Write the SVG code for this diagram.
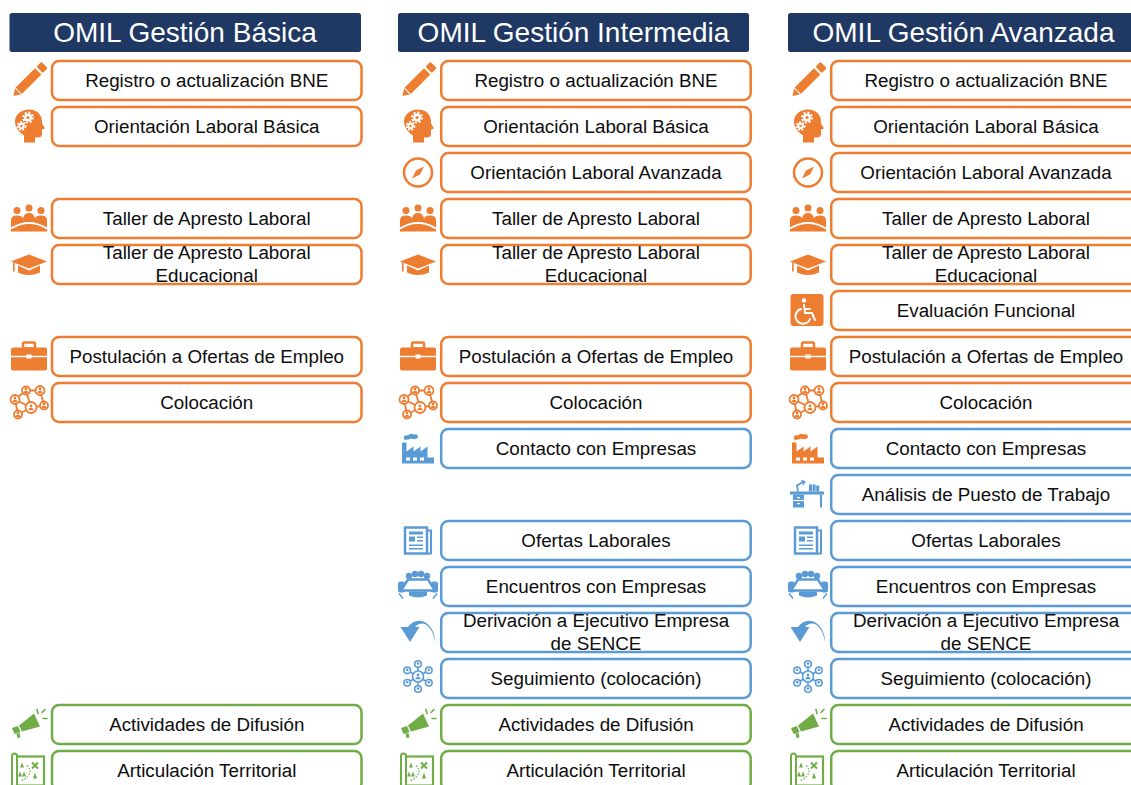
<svg xmlns="http://www.w3.org/2000/svg" xmlns:xlink="http://www.w3.org/1999/xlink" width="1131" height="785" viewBox="0 0 1131 785">
<style>
.hdr{fill:#203864}
.ht{font-family:"Liberation Sans",Arial,sans-serif;font-size:28px;fill:#fff;text-anchor:middle}
.box{fill:#fff;stroke-width:2.5}
.bo{stroke:#ED7D31}.bb{stroke:#5B9BD5}.bg{stroke:#70AD47}
.co{color:#ED7D31}.cb{color:#5B9BD5}.cg{color:#70AD47}
.t{font-family:"Liberation Sans",Arial,sans-serif;font-size:18.8px;fill:#0d0d0d;text-anchor:middle}
</style>
<defs>
<g id="pp" fill="currentColor"><circle cy="-1.5" r="1.4"/><path d="M-2.6,2.8 Q-2.6,0.2 0,0.2 Q2.6,0.2 2.6,2.8 Z"/></g>
<g id="i-pencil"><g transform="rotate(-45)" fill="currentColor"><polygon points="-22,0 -15,-4.5 13,-4.5 13,4.5 -15,4.5"/><rect x="15" y="-4.5" width="7" height="9" rx="1.5"/><line x1="-15" y1="-4.5" x2="-15" y2="4.5" stroke="#fff" stroke-width="1"/></g></g>
<g id="i-head"><path fill="currentColor" d="M-5,16 L-5,9 C-11,5 -14,0 -14,-5 C-14,-12 -8,-17 0,-17 C8,-17 13,-12 13,-5 L13,-3 L16,2 L13,3 L13,8 C13,10 11,11 9,11 L6,11 L6,16 Z"/>
<circle cx="-1" cy="-9" r="4" fill="#fff"/><circle cx="-1" cy="-9" r="5" fill="none" stroke="#fff" stroke-width="2" stroke-dasharray="2 1.9"/><circle cx="-1" cy="-9" r="1.5" fill="currentColor"/>
<circle cx="-7.5" cy="-0.5" r="3.2" fill="#fff"/><circle cx="-7.5" cy="-0.5" r="4" fill="none" stroke="#fff" stroke-width="1.8" stroke-dasharray="1.8 1.6"/><circle cx="-7.5" cy="-0.5" r="1.2" fill="currentColor"/></g>
<g id="i-compass"><circle r="14" fill="none" stroke="currentColor" stroke-width="2.5"/><polygon fill="currentColor" points="6,-6 2,2 -6,6 -2,-2"/></g>
<g id="i-group" fill="currentColor"><circle cx="-12" cy="-8" r="3.5"/><circle cx="0" cy="-10.5" r="3.5"/><circle cx="12" cy="-8" r="3.5"/><path d="M-18,13 L-18,2 Q-18,-3 -12,-3 Q-7,-3 -6,0 Q-5,-5.5 0,-5.5 Q5,-5.5 6,0 Q7,-3 12,-3 Q18,-3 18,2 L18,13 Z"/><path d="M-18,10 Q0,-1 18,10" fill="none" stroke="#fff" stroke-width="1.8"/></g>
<g id="i-cap" fill="currentColor"><polygon points="-18,-3 0,-10 18,-3 0,4"/><path d="M-11,1 L-11,8 Q0,13 11,8 L11,1 L0,6 Z"/><rect x="-16" y="-2" width="1.6" height="9"/></g>
<g id="i-wheel"><rect x="-16.5" y="-16" width="33" height="32" rx="3" fill="currentColor"/><g fill="none" stroke="#fff" stroke-width="2" stroke-linecap="round" stroke-linejoin="round"><path d="M-3,-5 L-2,3 L5,3 L8,10"/><path d="M-2,-1 L3,-1"/><path d="M-6,-1 A7.5,7.5 0 1 0 3,9"/></g><circle cx="-3" cy="-9.5" r="2.2" fill="#fff"/></g>
<g id="i-brief"><rect x="-6" y="-14" width="12" height="6" rx="1.5" fill="none" stroke="currentColor" stroke-width="2.5"/><rect x="-18" y="-9" width="36" height="23" rx="2" fill="currentColor"/><line x1="-18" y1="0" x2="18" y2="0" stroke="#fff" stroke-width="1.5"/><rect x="-2.5" y="-2" width="5" height="4" fill="#fff"/></g>
<g id="i-net"><g stroke="currentColor" stroke-width="1.8" fill="none"><path d="M-14,-3 L-3,-12 L11,-12 L15,3 L2,5 L-11,12 L-14,-3 L2,5 M-3,-12 L2,5"/></g>
<g fill="#fff" stroke="currentColor" stroke-width="1.8"><circle cx="-14" cy="-3" r="4.5"/><circle cx="-3" cy="-12" r="4"/><circle cx="11" cy="-12" r="4.5"/><circle cx="15" cy="3" r="4"/><circle cx="2" cy="5" r="5.5"/><circle cx="-11" cy="12" r="4"/></g>
<use href="#pp" x="-14" y="-3"/><use href="#pp" x="-3" y="-12"/><use href="#pp" x="11" y="-12"/><use href="#pp" x="15" y="3"/><use href="#pp" x="2" y="5"/><use href="#pp" x="-11" y="12"/></g>
<g id="i-factory" fill="currentColor"><path d="M-16,15 L-16,-6 L-11.5,-6 L-11.5,3 L-4.5,-2 L-4.5,3 L2.5,-2 L2.5,3 L9.5,-2 L9.5,9 L16,9 L16,15 Z"/><path d="M-14,-9 Q-15,-14 -10,-13 Q-8,-16 -4,-14 Q0,-15 0,-11 Q-3,-8 -7,-10 Q-11,-8 -14,-9 Z"/><g fill="#fff"><rect x="-12" y="9" width="4" height="3"/><rect x="-5" y="9" width="4" height="3"/><rect x="2" y="9" width="4" height="3"/></g></g>
<g id="i-desk" fill="currentColor"><rect x="-17" y="-3" width="34" height="3"/><rect x="-14" y="0" width="11" height="13"/><rect x="13" y="0" width="2" height="13"/><line x1="-14" y1="6" x2="-3" y2="6" stroke="#fff" stroke-width="1.2"/><rect x="-10" y="2.5" width="3" height="1.2" fill="#fff"/><rect x="-10" y="8.5" width="3" height="1.2" fill="#fff"/><path d="M-9,-3 L-10,-9 L-5,-12" fill="none" stroke="currentColor" stroke-width="1.8"/><polygon points="-6,-15 -1,-13 -4,-9"/><rect x="2" y="-10" width="3" height="7"/><rect x="5.6" y="-10" width="3" height="7"/><rect x="9.2" y="-9" width="3" height="6"/></g>
<g id="i-news"><rect x="-13" y="-13" width="22" height="26" fill="none" stroke="currentColor" stroke-width="2.5"/><path d="M9,-10 L13,-10 L13,13 L9,13" fill="none" stroke="currentColor" stroke-width="2"/><g fill="currentColor"><rect x="-9" y="-9" width="14" height="3"/><rect x="-9" y="-4" width="6" height="5"/><rect x="-1" y="-4" width="6" height="1.5"/><rect x="-1" y="-0.5" width="6" height="1.5"/><rect x="-9" y="4" width="14" height="1.5"/><rect x="-9" y="7.5" width="14" height="1.5"/></g></g>
<g id="i-meet" fill="currentColor"><circle cx="-9" cy="-10.5" r="3.2"/><circle cx="-3" cy="-12.5" r="3.2"/><circle cx="3" cy="-12.5" r="3.2"/><circle cx="9" cy="-10.5" r="3.2"/><rect x="-20" y="-5" width="7" height="11" rx="2.5"/><rect x="13" y="-5" width="7" height="11" rx="2.5"/><polygon points="-10,-7 10,-7 17,4 -17,4" fill="#fff" stroke="currentColor" stroke-width="2.5"/><path d="M-9,5 L9,5 L9,9 Q0,13 -9,9 Z"/><path d="M-19,7 L-15,12 M19,7 L15,12" stroke="currentColor" stroke-width="1.5"/></g>
<path id="i-arrow" fill="currentColor" d="M17,12 C17,-8 -1,-16 -10,-3 L-17.5,-3 L-8,12 L1.5,-3 L-3,-3 C3,-10 14,-7 17,12 Z"/>
<g id="i-hub"><g stroke="currentColor" stroke-width="1.6"><line x1="0" y1="0" x2="0" y2="-12.5"/><line x1="0" y1="0" x2="10.8" y2="-6.25"/><line x1="0" y1="0" x2="10.8" y2="6.25"/><line x1="0" y1="0" x2="0" y2="12.5"/><line x1="0" y1="0" x2="-10.8" y2="6.25"/><line x1="0" y1="0" x2="-10.8" y2="-6.25"/></g>
<g fill="#fff" stroke="currentColor" stroke-width="1.6"><circle cx="0" cy="-12.5" r="3.3"/><circle cx="10.8" cy="-6.25" r="3.3"/><circle cx="10.8" cy="6.25" r="3.3"/><circle cx="0" cy="12.5" r="3.3"/><circle cx="-10.8" cy="6.25" r="3.3"/><circle cx="-10.8" cy="-6.25" r="3.3"/><circle r="5.5"/></g>
<g fill="currentColor"><circle cx="0" cy="-13" r="1.3"/><circle cx="10.8" cy="-6.75" r="1.3"/><circle cx="10.8" cy="5.75" r="1.3"/><circle cx="0" cy="12" r="1.3"/><circle cx="-10.8" cy="5.75" r="1.3"/><circle cx="-10.8" cy="-6.75" r="1.3"/></g><use href="#pp"/></g>
<g id="i-mega" fill="currentColor"><polygon points="-10,1 5,-11 11,2 -7,7"/><polygon points="-17,3.5 -11,1.5 -8.5,7.5 -14.5,9.5"/><polygon points="-12.5,9 -9.5,8.5 -8.5,13 -11.5,13.5"/><g stroke="currentColor" stroke-width="1.6" stroke-linecap="round"><line x1="8" y1="-15" x2="9" y2="-11"/><line x1="13" y1="-12" x2="16" y2="-15"/><line x1="14" y1="-6" x2="18" y2="-6"/></g></g>
<g id="i-map"><rect x="-13" y="-14" width="28" height="29" fill="none" stroke="currentColor" stroke-width="2.2"/><rect x="-17" y="-17" width="5" height="33" rx="2.5" fill="#fff" stroke="currentColor" stroke-width="2"/><g fill="currentColor"><polygon points="-7,-8 -5,-3 -9,-3"/><polygon points="-9,1 -7,6 -11,6"/><polygon points="-5,1 -3,6 -7,6"/><polygon points="6,2 8,8 4,8"/></g><path d="M3,-8 L9,-2 M9,-8 L3,-2" stroke="currentColor" stroke-width="2"/><path d="M-2,-5 Q3,0 0,4 Q-3,9 -8,10" fill="none" stroke="currentColor" stroke-width="1.2" stroke-dasharray="1.5 1.5"/></g>
</defs>
<rect width="1131" height="785" fill="#fff"/>
<g id="headers">
<g id="h1"><rect class="hdr" x="9.5" y="13" width="351.5" height="39" rx="2.5"/><text class="ht" x="185" y="42">OMIL Gestión Básica</text></g>
<g id="h2"><rect class="hdr" x="398" y="13" width="351" height="39" rx="2.5"/><text class="ht" x="573.5" y="42">OMIL Gestión Intermedia</text></g>
<g id="h3"><rect class="hdr" x="788" y="13" width="351" height="39" rx="2.5"/><text class="ht" x="963.5" y="42">OMIL Gestión Avanzada</text></g>
</g>
<g id="connectors"/>
<g id="col1">
<g id="c1-registro"><rect class="box bo" x="52" y="61" width="309.5" height="39" rx="7"/><use href="#i-pencil" class="co" x="29" y="80.5"/><text class="t" x="206.75" y="87">Registro o actualización BNE</text></g>
<g id="c1-orient"><rect class="box bo" x="52" y="107" width="309.5" height="39" rx="7"/><use href="#i-head" class="co" x="29" y="126.5"/><text class="t" x="206.75" y="133">Orientación Laboral Básica</text></g>
<g id="c1-taller"><rect class="box bo" x="52" y="199" width="309.5" height="39" rx="7"/><use href="#i-group" class="co" x="29" y="218.5"/><text class="t" x="206.75" y="225">Taller de Apresto Laboral</text></g>
<g id="c1-tallered"><rect class="box bo" x="52" y="245" width="309.5" height="39" rx="7"/><use href="#i-cap" class="co" x="29" y="264.5"/><text class="t" x="206.75" y="259">Taller de Apresto Laboral</text><text class="t" x="206.75" y="282">Educacional</text></g>
<g id="c1-postul"><rect class="box bo" x="52" y="337" width="309.5" height="39" rx="7"/><use href="#i-brief" class="co" x="29" y="356.5"/><text class="t" x="206.75" y="363">Postulación a Ofertas de Empleo</text></g>
<g id="c1-coloc"><rect class="box bo" x="52" y="383" width="309.5" height="39" rx="7"/><use href="#i-net" class="co" x="29" y="402.5"/><text class="t" x="206.75" y="409">Colocación</text></g>
<g id="c1-difus"><rect class="box bg" x="52" y="705" width="309.5" height="39" rx="7"/><use href="#i-mega" class="cg" x="29" y="724.5"/><text class="t" x="206.75" y="731">Actividades de Difusión</text></g>
<g id="c1-artic"><rect class="box bg" x="52" y="751" width="309.5" height="39" rx="7"/><use href="#i-map" class="cg" x="29" y="770.5"/><text class="t" x="206.75" y="777">Articulación Territorial</text></g>
</g>
<g id="col2">
<g id="c2-registro"><rect class="box bo" x="441.2" y="61" width="309.5" height="39" rx="7"/><use href="#i-pencil" class="co" x="418" y="80.5"/><text class="t" x="596" y="87">Registro o actualización BNE</text></g>
<g id="c2-orient"><rect class="box bo" x="441.2" y="107" width="309.5" height="39" rx="7"/><use href="#i-head" class="co" x="418" y="126.5"/><text class="t" x="596" y="133">Orientación Laboral Básica</text></g>
<g id="c2-orientav"><rect class="box bo" x="441.2" y="153" width="309.5" height="39" rx="7"/><use href="#i-compass" class="co" x="418" y="172.5"/><text class="t" x="596" y="179">Orientación Laboral Avanzada</text></g>
<g id="c2-taller"><rect class="box bo" x="441.2" y="199" width="309.5" height="39" rx="7"/><use href="#i-group" class="co" x="418" y="218.5"/><text class="t" x="596" y="225">Taller de Apresto Laboral</text></g>
<g id="c2-tallered"><rect class="box bo" x="441.2" y="245" width="309.5" height="39" rx="7"/><use href="#i-cap" class="co" x="418" y="264.5"/><text class="t" x="596" y="259">Taller de Apresto Laboral</text><text class="t" x="596" y="282">Educacional</text></g>
<g id="c2-postul"><rect class="box bo" x="441.2" y="337" width="309.5" height="39" rx="7"/><use href="#i-brief" class="co" x="418" y="356.5"/><text class="t" x="596" y="363">Postulación a Ofertas de Empleo</text></g>
<g id="c2-coloc"><rect class="box bo" x="441.2" y="383" width="309.5" height="39" rx="7"/><use href="#i-net" class="co" x="418" y="402.5"/><text class="t" x="596" y="409">Colocación</text></g>
<g id="c2-contacto"><rect class="box bb" x="441.2" y="429" width="309.5" height="39" rx="7"/><use href="#i-factory" class="cb" x="418" y="448.5"/><text class="t" x="596" y="455">Contacto con Empresas</text></g>
<g id="c2-ofertas"><rect class="box bb" x="441.2" y="521" width="309.5" height="39" rx="7"/><use href="#i-news" class="cb" x="418" y="540.5"/><text class="t" x="596" y="547">Ofertas Laborales</text></g>
<g id="c2-encuentros"><rect class="box bb" x="441.2" y="567" width="309.5" height="39" rx="7"/><use href="#i-meet" class="cb" x="418" y="586.5"/><text class="t" x="596" y="593">Encuentros con Empresas</text></g>
<g id="c2-deriv"><rect class="box bb" x="441.2" y="613" width="309.5" height="39" rx="7"/><use href="#i-arrow" class="cb" x="418" y="630"/><text class="t" x="596" y="627">Derivación a Ejecutivo Empresa</text><text class="t" x="596" y="650">de SENCE</text></g>
<g id="c2-seguim"><rect class="box bb" x="441.2" y="659" width="309.5" height="39" rx="7"/><use href="#i-hub" class="cb" x="418" y="676.5"/><text class="t" x="596" y="685">Seguimiento (colocación)</text></g>
<g id="c2-difus"><rect class="box bg" x="441.2" y="705" width="309.5" height="39" rx="7"/><use href="#i-mega" class="cg" x="418" y="724.5"/><text class="t" x="596" y="731">Actividades de Difusión</text></g>
<g id="c2-artic"><rect class="box bg" x="441.2" y="751" width="309.5" height="39" rx="7"/><use href="#i-map" class="cg" x="418" y="770.5"/><text class="t" x="596" y="777">Articulación Territorial</text></g>
</g>
<g id="col3">
<g id="c3-registro"><rect class="box bo" x="831.2" y="61" width="309.5" height="39" rx="7"/><use href="#i-pencil" class="co" x="808" y="80.5"/><text class="t" x="986" y="87">Registro o actualización BNE</text></g>
<g id="c3-orient"><rect class="box bo" x="831.2" y="107" width="309.5" height="39" rx="7"/><use href="#i-head" class="co" x="808" y="126.5"/><text class="t" x="986" y="133">Orientación Laboral Básica</text></g>
<g id="c3-orientav"><rect class="box bo" x="831.2" y="153" width="309.5" height="39" rx="7"/><use href="#i-compass" class="co" x="808" y="172.5"/><text class="t" x="986" y="179">Orientación Laboral Avanzada</text></g>
<g id="c3-taller"><rect class="box bo" x="831.2" y="199" width="309.5" height="39" rx="7"/><use href="#i-group" class="co" x="808" y="218.5"/><text class="t" x="986" y="225">Taller de Apresto Laboral</text></g>
<g id="c3-tallered"><rect class="box bo" x="831.2" y="245" width="309.5" height="39" rx="7"/><use href="#i-cap" class="co" x="808" y="264.5"/><text class="t" x="986" y="259">Taller de Apresto Laboral</text><text class="t" x="986" y="282">Educacional</text></g>
<g id="c3-evalfunc"><rect class="box bo" x="831.2" y="291" width="309.5" height="39" rx="7"/><use href="#i-wheel" class="co" x="807" y="310"/><text class="t" x="986" y="317">Evaluación Funcional</text></g>
<g id="c3-postul"><rect class="box bo" x="831.2" y="337" width="309.5" height="39" rx="7"/><use href="#i-brief" class="co" x="808" y="356.5"/><text class="t" x="986" y="363">Postulación a Ofertas de Empleo</text></g>
<g id="c3-coloc"><rect class="box bo" x="831.2" y="383" width="309.5" height="39" rx="7"/><use href="#i-net" class="co" x="808" y="402.5"/><text class="t" x="986" y="409">Colocación</text></g>
<g id="c3-contacto"><rect class="box bb" x="831.2" y="429" width="309.5" height="39" rx="7"/><use href="#i-factory" class="co" x="808" y="448.5"/><text class="t" x="986" y="455">Contacto con Empresas</text></g>
<g id="c3-analisis"><rect class="box bb" x="831.2" y="475" width="309.5" height="39" rx="7"/><use href="#i-desk" class="cb" x="807" y="494.5"/><text class="t" x="986" y="501">Análisis de Puesto de Trabajo</text></g>
<g id="c3-ofertas"><rect class="box bb" x="831.2" y="521" width="309.5" height="39" rx="7"/><use href="#i-news" class="cb" x="808" y="540.5"/><text class="t" x="986" y="547">Ofertas Laborales</text></g>
<g id="c3-encuentros"><rect class="box bb" x="831.2" y="567" width="309.5" height="39" rx="7"/><use href="#i-meet" class="cb" x="808" y="586.5"/><text class="t" x="986" y="593">Encuentros con Empresas</text></g>
<g id="c3-deriv"><rect class="box bb" x="831.2" y="613" width="309.5" height="39" rx="7"/><use href="#i-arrow" class="cb" x="808" y="630"/><text class="t" x="986" y="627">Derivación a Ejecutivo Empresa</text><text class="t" x="986" y="650">de SENCE</text></g>
<g id="c3-seguim"><rect class="box bb" x="831.2" y="659" width="309.5" height="39" rx="7"/><use href="#i-hub" class="cb" x="808" y="676.5"/><text class="t" x="986" y="685">Seguimiento (colocación)</text></g>
<g id="c3-difus"><rect class="box bg" x="831.2" y="705" width="309.5" height="39" rx="7"/><use href="#i-mega" class="cg" x="808" y="724.5"/><text class="t" x="986" y="731">Actividades de Difusión</text></g>
<g id="c3-artic"><rect class="box bg" x="831.2" y="751" width="309.5" height="39" rx="7"/><use href="#i-map" class="cg" x="808" y="770.5"/><text class="t" x="986" y="777">Articulación Territorial</text></g>
</g>
</svg>
